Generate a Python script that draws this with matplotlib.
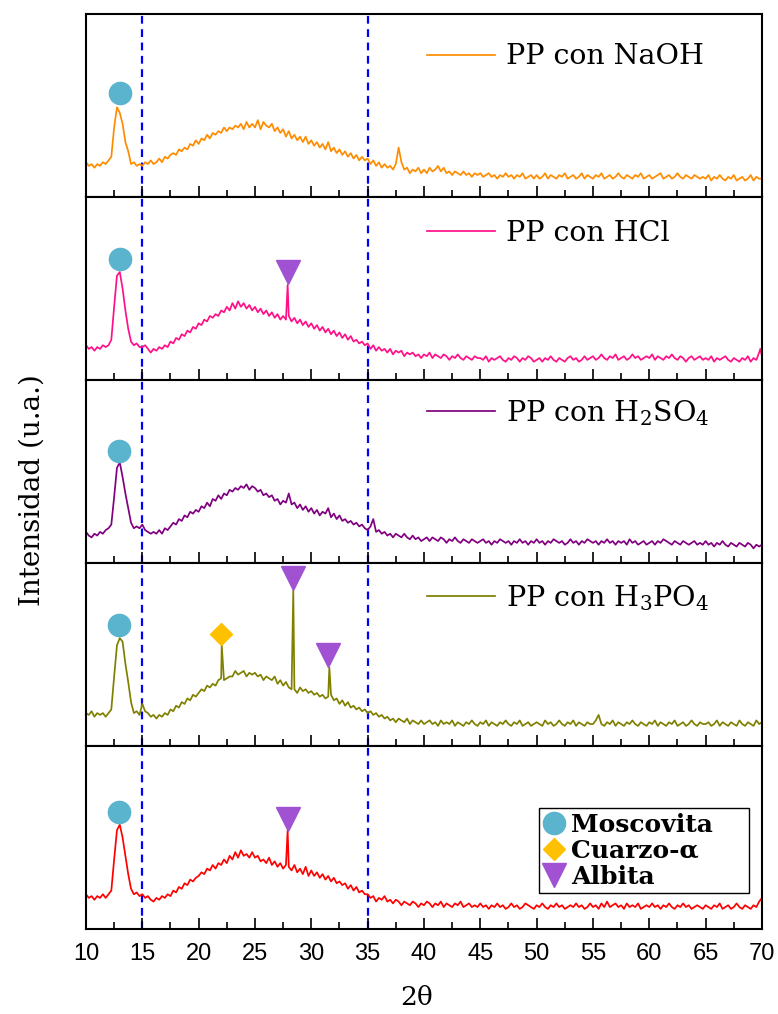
"""
Difractogramas (DRX) de PP natural y tratado con NaOH, HCl, H2SO4 y H3PO4.
"""

import numpy as np
import matplotlib.pyplot as plt
from matplotlib.lines import Line2D
from matplotlib.ticker import MultipleLocator

# eje 2theta (paso de muestreo)
paso = 0.25
dos_theta = np.arange(10, 70 + paso / 2, paso)

# intensidades (u.a.), una fila = 5 grados
naoh = [
    19, 17, 18, 16, 18, 17, 19, 18, 20, 22, 38, 49, 46, 40, 30, 25, 18, 19, 17, 18,
    17, 19, 18, 20, 18, 19, 21, 19, 22, 21, 23, 24, 23, 26, 25, 27, 26, 29, 28, 31,
    29, 32, 31, 34, 32, 35, 34, 36, 35, 38, 36, 38, 37, 39, 38, 40, 37, 41, 38, 40,
    38, 42, 37, 41, 39, 38, 40, 36, 38, 35, 37, 33, 36, 32, 34, 31, 33, 30, 33, 29,
    31, 28, 30, 27, 29, 26, 30, 25, 27, 24, 26, 23, 25, 22, 24, 21, 23, 20, 22, 20,
    21, 18, 20, 17, 19, 16, 18, 16, 17, 15, 18, 27, 19, 15, 16, 13, 15, 14, 16, 13,
    15, 13, 16, 14, 15, 17, 14, 16, 13, 14, 12, 14, 13, 12, 14, 12, 13, 11, 13, 12,
    13, 11, 12, 13, 11, 12, 10, 12, 11, 13, 11, 12, 10, 12, 11, 13, 10, 11, 12, 10,
    12, 10, 11, 13, 10, 12, 11, 10, 12, 11, 13, 10, 11, 12, 10, 11, 13, 10, 12, 11,
    10, 12, 11, 13, 10, 11, 12, 10, 11, 13, 11, 10, 12, 11, 10, 12, 11, 13, 10, 11,
    12, 10, 11, 12, 13, 10, 11, 12, 10, 11, 13, 11, 10, 12, 11, 10, 12, 11, 10, 11,
    10, 12, 9, 11, 10, 12, 10, 9, 11, 10, 12, 9, 10, 11, 9, 10, 12, 9, 11, 10,
    10,
]
hcl = [
    19, 17, 18, 16, 18, 17, 19, 18, 19, 22, 40, 57, 59, 50, 38, 28, 21, 19, 20, 18,
    18, 19, 17, 15, 17, 16, 18, 17, 19, 18, 21, 20, 23, 22, 25, 24, 27, 26, 29, 28,
    31, 30, 33, 32, 35, 34, 36, 35, 38, 37, 40, 38, 42, 39, 43, 40, 42, 39, 41, 38,
    40, 37, 39, 36, 38, 35, 37, 34, 36, 33, 35, 33, 35, 32, 34, 31, 33, 30, 32, 29,
    31, 28, 30, 27, 29, 26, 28, 25, 27, 24, 26, 23, 25, 22, 24, 21, 22, 20, 21, 19,
    20, 17, 19, 16, 18, 16, 17, 15, 17, 14, 16, 15, 16, 13, 15, 14, 15, 13, 14, 12,
    14, 13, 15, 12, 14, 13, 12, 14, 13, 11, 13, 12, 14, 12, 11, 13, 12, 11, 13, 12,
    12, 11, 13, 10, 12, 11, 12, 13, 11, 10, 12, 11, 13, 12, 10, 12, 11, 13, 12, 10,
    11, 12, 10, 12, 11, 13, 11, 10, 12, 11, 10, 12, 13, 11, 12, 10, 11, 13, 11, 12,
    13, 11, 12, 14, 12, 11, 13, 12, 14, 11, 12, 13, 11, 12, 14, 12, 13, 11, 12, 13,
    12, 14, 11, 13, 12, 11, 13, 12, 14, 12, 11, 13, 12, 10, 12, 13, 11, 12, 13, 11,
    12, 11, 13, 10, 12, 11, 12, 13, 11, 10, 12, 11, 10, 12, 11, 13, 10, 12, 11, 15,
    13,
]
h2so4 = [
    17, 15, 14, 16, 15, 17, 16, 18, 19, 21, 36, 52, 55, 47, 38, 30, 22, 19, 20, 19,
    21, 18, 17, 16, 17, 16, 18, 16, 19, 18, 20, 22, 21, 24, 23, 26, 25, 28, 27, 29,
    28, 31, 30, 33, 31, 35, 34, 37, 35, 38, 37, 40, 39, 41, 40, 42, 41, 43, 40, 42,
    41, 39, 40, 37, 38, 36, 37, 34, 35, 32, 34, 33, 38, 32, 33, 30, 32, 29, 31, 28,
    30, 27, 29, 26, 28, 27, 30, 25, 27, 24, 26, 23, 24, 22, 23, 21, 22, 20, 21, 19,
    18, 20, 24, 17, 18, 16, 17, 15, 16, 14, 16, 15, 14, 16, 14, 13, 15, 13, 14, 12,
    13, 14, 12, 14, 13, 12, 14, 13, 11, 13, 12, 14, 12, 11, 13, 12, 11, 13, 12, 11,
    12, 13, 11, 12, 10, 12, 11, 13, 12, 11, 12, 10, 12, 11, 13, 11, 12, 10, 12, 11,
    13, 11, 12, 10, 12, 11, 13, 12, 11, 12, 10, 11, 13, 11, 12, 10, 12, 11, 13, 12,
    11, 12, 10, 12, 11, 13, 11, 12, 10, 12, 11, 12, 10, 13, 11, 12, 10, 11, 12, 10,
    11, 12, 10, 12, 11, 13, 12, 11, 10, 12, 11, 10, 12, 11, 10, 11, 12, 10, 11, 10,
    12, 10, 11, 9, 11, 10, 12, 10, 9, 11, 10, 9, 11, 10, 9, 11, 10, 8, 10, 9,
    10,
]
h3po4 = [
    18, 17, 19, 16, 18, 17, 18, 16, 18, 20, 38, 55, 59, 57, 45, 35, 24, 18, 19, 17,
    23, 19, 18, 16, 17, 15, 17, 16, 18, 17, 20, 19, 22, 21, 24, 23, 26, 25, 28, 27,
    29, 31, 30, 33, 32, 34, 33, 36, 37, 36, 37, 38, 38, 41, 39, 40, 41, 38, 40, 39,
    40, 38, 39, 36, 38, 37, 36, 38, 34, 36, 33, 35, 32, 31, 31, 29, 32, 30, 31, 29,
    30, 28, 29, 27, 28, 26, 27, 28, 25, 26, 23, 25, 22, 24, 21, 22, 20, 21, 19, 20,
    18, 19, 17, 18, 16, 17, 15, 16, 14, 15, 13, 15, 14, 13, 15, 12, 14, 13, 12, 14,
    12, 13, 14, 12, 13, 11, 14, 12, 13, 12, 14, 11, 13, 12, 11, 13, 12, 14, 12, 11,
    13, 12, 14, 11, 13, 12, 11, 13, 12, 14, 12, 11, 13, 12, 14, 11, 12, 13, 11, 12,
    13, 12, 11, 14, 12, 13, 11, 12, 14, 12, 11, 13, 12, 14, 11, 13, 12, 11, 13, 12,
    12, 14, 17, 12, 11, 13, 12, 14, 11, 13, 12, 11, 13, 12, 14, 12, 11, 13, 12, 11,
    13, 12, 14, 11, 13, 12, 11, 13, 12, 14, 11, 12, 13, 11, 12, 14, 12, 11, 13, 12,
    12, 13, 11, 12, 14, 11, 13, 12, 11, 13, 12, 11, 14, 12, 11, 13, 12, 11, 14, 12,
    13,
]
natural = [
    19, 17, 18, 16, 18, 17, 19, 17, 19, 21, 38, 54, 57, 50, 40, 30, 22, 19, 20, 18,
    19, 17, 18, 16, 15, 17, 16, 18, 17, 19, 18, 21, 20, 23, 22, 25, 24, 27, 26, 28,
    29, 31, 30, 33, 32, 35, 33, 36, 35, 38, 36, 40, 38, 42, 39, 43, 40, 41, 39, 42,
    39, 40, 37, 38, 36, 39, 35, 37, 34, 36, 33, 35, 34, 32, 35, 31, 33, 30, 34, 29,
    32, 29, 31, 28, 30, 27, 29, 26, 28, 25, 26, 24, 25, 22, 24, 21, 23, 20, 21, 19,
    19, 17, 18, 15, 17, 16, 18, 15, 16, 14, 16, 15, 13, 15, 14, 13, 15, 14, 12, 14,
    13, 15, 14, 12, 14, 13, 15, 12, 14, 13, 12, 14, 13, 15, 12, 13, 14, 12, 13, 12,
    14, 12, 13, 11, 13, 12, 14, 12, 13, 11, 12, 14, 12, 13, 11, 12, 14, 13, 12, 11,
    13, 12, 14, 12, 11, 13, 12, 14, 12, 13, 11, 12, 13, 12, 14, 12, 13, 11, 12, 14,
    12, 13, 11, 14, 12, 15, 12, 13, 14, 12, 13, 11, 14, 12, 13, 12, 14, 11, 12, 13,
    12, 14, 12, 13, 11, 13, 12, 14, 12, 11, 13, 12, 14, 12, 13, 11, 12, 13, 12, 11,
    13, 12, 11, 13, 12, 14, 11, 12, 13, 11, 12, 14, 12, 11, 13, 12, 11, 13, 12, 15,
    17,
]

# picos estrechos (2theta, intensidad) que caen entre dos puntos de muestreo
picos_naoh = []
picos_hcl = [(27.9, 52), (69.85, 17)]
picos_h2so4 = []
picos_h3po4 = [(22.05, 55), (28.4, 85), (31.6, 43)]
picos_natural = [(27.9, 54)]

etiquetas = ["PP con NaOH", "PP con HCl", "PP con H$_2$SO$_4$",
             "PP con H$_3$PO$_4$", "PP natural"]
datos = [naoh, hcl, h2so4, h3po4, natural]
picos = [picos_naoh, picos_hcl, picos_h2so4, picos_h3po4, picos_natural]
colores = ["#FF8C00", "#FF1088", "#800080", "#808000", "#FF0000"]

# fases identificadas: (fase, 2theta, altura del simbolo)
fases_naoh = [("Moscovita", 13.0, 57)]
fases_hcl = [("Moscovita", 13.0, 66), ("Albita", 27.9, 59)]
fases_h2so4 = [("Moscovita", 12.9, 61)]
fases_h3po4 = [("Moscovita", 12.9, 66), ("Cuarzo-α", 22.0, 61),
               ("Albita", 28.4, 92), ("Albita", 31.5, 50)]
fases_natural = [("Moscovita", 12.9, 64), ("Albita", 27.9, 60)]
fases = [fases_naoh, fases_hcl, fases_h2so4, fases_h3po4, fases_natural]

simbolos = {
    "Moscovita": ("o", "#5AB4CE", 16),
    "Cuarzo-α": ("D", "#FFC000", 11),
    "Albita": ("v", "#A052D2", 17),
}

# altura del rotulo de cada panel (fraccion del eje)
alto_rotulo = [0.765, 0.80, 0.82, 0.81, 0.80]


def con_picos(y, lista):
    x = list(dos_theta)
    y = list(y)
    for px, py in lista:
        i = int(np.searchsorted(x, px))
        x.insert(i, px)
        y.insert(i, py)
    return x, y


fuente_num = ["Liberation Sans Narrow", "Liberation Sans", "DejaVu Sans"]
plt.rcParams["mathtext.fontset"] = "dejavuserif"

fig, ejes = plt.subplots(5, 1, figsize=(7.78, 10.14), dpi=100, sharex=True)
fig.subplots_adjust(left=0.1105, right=0.9794, top=0.9862, bottom=0.0838, hspace=0)

for ax, y, pk, color, etiqueta, fs, h in zip(ejes, datos, picos, colores,
                                             etiquetas, fases, alto_rotulo):
    x, yy = con_picos(y, pk)
    linea, = ax.plot(x, yy, color=color, lw=1.25)
    for fase, fx, fy in fs:
        m, c, ms = simbolos[fase]
        ax.plot(fx, fy, marker=m, color=c, markersize=ms, markeredgecolor=c,
                linestyle="none", zorder=5)
    for xv in (15, 35):
        ax.axvline(xv, color="#0000FF", lw=1.6, linestyle=(0, (3.5, 2.5)), zorder=1)
    ax.legend([linea], [etiqueta], loc="center left", bbox_to_anchor=(0.504, h),
              frameon=False, handlelength=2.4, handletextpad=0.4,
              borderaxespad=0, borderpad=0, prop={"family": "DejaVu Serif", "size": 20.5})
    ax.set_ylim(0, 100)
    ax.set_yticks([])
    ax.set_xlim(10, 70)
    ax.xaxis.set_major_locator(MultipleLocator(5))
    ax.xaxis.set_minor_locator(MultipleLocator(2.5))
    ax.tick_params(axis="x", which="major", direction="in", length=8, width=1.2, pad=10)
    ax.tick_params(axis="x", which="minor", direction="in", length=5, width=1.2)
    for s in ax.spines.values():
        s.set_linewidth(1.5)

for lab in ejes[-1].get_xticklabels():
    lab.set_family(fuente_num)
    lab.set_fontsize(17)

# leyenda de fases en el panel inferior
manijas = [Line2D([], [], marker=m, color=c, markersize=ms, linestyle="none")
           for m, c, ms in simbolos.values()]
ley = ejes[-1].legend(manijas, list(simbolos.keys()), loc="upper left",
                      bbox_to_anchor=(0.67, 0.197, 0.311, 0.464), mode="expand",
                      borderaxespad=0,
                      prop={"family": "DejaVu Serif", "weight": "bold", "size": 18},
                      handlelength=0.85, handletextpad=0.25, labelspacing=0.08,
                      borderpad=0.18, fancybox=False, framealpha=1, edgecolor="black")
ley.get_frame().set_linewidth(1.0)

fig.text(0.041, 0.517, "Intensidad (u.a.)", rotation=90, ha="center", va="center",
         family="DejaVu Serif", fontsize=20)
fig.text(0.535, 0.016, "2θ", ha="center", va="center", family="DejaVu Serif",
         fontsize=19)

fig.savefig("out.png", dpi=100)
